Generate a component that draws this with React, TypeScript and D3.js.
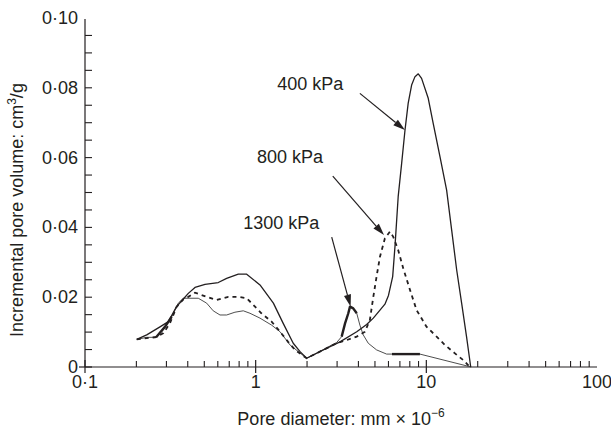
import React from "react";
import * as d3 from "d3";

const W = 611;
const H = 432;
const FONT = "'Liberation Sans', Arial, Helvetica, sans-serif";
const INK = "#231f20";

// Axis ticks
const xMajorTicks = [0.1, 1, 10];
const xTickLabels = ["0·1", "1", "10", "100"];
const xLabelValues = [0.1, 1, 10, 100];
const yMajorTicks = [0, 0.02, 0.04, 0.06, 0.08, 0.1];
const yTickLabels = ["0", "0·02", "0·04", "0·06", "0·08", "0·10"];

// Series: [pore diameter (µm), incremental pore volume (cm3/g)]
const kPa400: [number, number][] = [
  [0.201, 0.0079], [0.23, 0.0092], [0.275, 0.0115], [0.308, 0.013], [0.344, 0.0173],
  [0.377, 0.0195], [0.403, 0.0211], [0.441, 0.0228], [0.505, 0.0237], [0.604, 0.0242],
  [0.676, 0.0254], [0.791, 0.0266], [0.886, 0.0266], [1.06, 0.0235], [1.27, 0.0183],
  [1.45, 0.0125], [1.66, 0.0068], [1.82, 0.0044], [1.99, 0.0025], [2.49, 0.0049],
  [3.12, 0.0072], [3.91, 0.0101], [4.47, 0.0122], [4.89, 0.014], [5.35, 0.0163],
  [5.72, 0.018], [6.0, 0.0205], [6.35, 0.0259], [6.55, 0.0345], [6.84, 0.0488],
  [7.17, 0.0584], [7.5, 0.0679], [7.83, 0.0756], [8.2, 0.0808], [8.58, 0.0832],
  [8.97, 0.084], [9.38, 0.0827], [10.26, 0.077], [10.97, 0.0698], [12.02, 0.0603],
  [13.15, 0.0507], [14.07, 0.0393], [15.06, 0.0278], [16.1, 0.0183], [17.2, 0.0087],
  [18.2, 0],
];

const kPa800: [number, number][] = [
  [0.201, 0.0079], [0.263, 0.0086], [0.288, 0.0097], [0.315, 0.0126], [0.344, 0.0172],
  [0.377, 0.0194], [0.403, 0.0201], [0.441, 0.0213], [0.516, 0.0201], [0.591, 0.0192],
  [0.691, 0.0201], [0.791, 0.0201], [0.886, 0.0197], [0.968, 0.0178], [1.08, 0.0154],
  [1.24, 0.013], [1.39, 0.0101], [1.55, 0.0072], [1.7, 0.0049], [1.99, 0.0025],
  [2.49, 0.0049], [2.98, 0.0068], [3.41, 0.0077], [3.91, 0.0087], [4.37, 0.0101],
  [4.67, 0.0135], [4.89, 0.0201], [5.11, 0.0259], [5.35, 0.0316], [5.72, 0.0369],
  [6.12, 0.0388], [6.4, 0.0373], [6.84, 0.0335], [7.32, 0.0283], [8.02, 0.0221],
  [8.77, 0.0163], [10.04, 0.0115], [11.49, 0.0087], [12.85, 0.0063], [14.71, 0.0039],
  [16.45, 0.002], [18.0, 0],
];

const kPa1300: [number, number][] = [
  [0.201, 0.0079], [0.23, 0.0085], [0.261, 0.0085], [0.294, 0.0115], [0.322, 0.0144],
  [0.352, 0.0183], [0.377, 0.0197], [0.412, 0.0197], [0.461, 0.0197], [0.516, 0.0183],
  [0.564, 0.0161], [0.618, 0.0149], [0.676, 0.0149], [0.756, 0.0157], [0.846, 0.0161],
  [0.926, 0.0154], [1.06, 0.014], [1.24, 0.012], [1.39, 0.0101], [1.59, 0.0063],
  [1.78, 0.0044], [1.99, 0.0025], [2.49, 0.0049], [2.79, 0.0063], [2.98, 0.007],
  [3.19, 0.0087], [3.34, 0.0125], [3.49, 0.0154], [3.57, 0.0173], [3.73, 0.0168],
  [3.91, 0.0154], [4.08, 0.012], [4.27, 0.0092], [4.57, 0.0068], [5.11, 0.0049],
  [5.85, 0.0037], [6.29, 0.0037], [9.17, 0.0037], [18.3, 0],
];
// x-ranges where the 1300 kPa trace is drawn heavier in the original
const kPa1300Heavy: [number, number][] = [[0.255, 0.33], [3.1, 3.95], [6.29, 9.17]];

// Annotations: label, text anchor point (start, baseline), arrow start, arrow tip (data coords)
const annLabels = ["400 kPa", "800 kPa", "1300 kPa"];
const annText: [number, number][] = [[1.338, 0.0794], [1.018, 0.0584], [0.846, 0.0395]];
const annFrom: [number, number][] = [[4.08, 0.0784], [2.83, 0.0547], [2.79, 0.0372]];
const annTo: [number, number][] = [[7.49, 0.0679], [5.65, 0.0378], [3.6, 0.0173]];

export default function App() {
  const x = d3.scaleLog().domain([0.1, 100]).range([85, 597]);
  const y = d3.scaleLinear().domain([0, 0.1]).range([367, 18]);
  const line = d3
    .line<[number, number]>()
    .x((d) => x(d[0]))
    .y((d) => y(d[1]));

  const xMinor: number[] = [];
  [0.1, 1, 10].forEach((dec) => {
    for (let k = 2; k <= 9; k++) xMinor.push(dec * k);
  });
  const yMinor: number[] = d3.range(1, 20).map((i) => i * 0.005);

  const x0 = x(0.1);
  const y0 = y(0);
  const fs = 18;

  const heavySegs = kPa1300Heavy.map(([a, b]) => kPa1300.filter((d) => d[0] >= a && d[0] <= b));

  return (
    <svg
      width={W}
      height={H}
      style={{ position: "absolute", left: 0, top: 0, display: "block", background: "#fff" }}
      fontFamily={FONT}
    >
      {/* axes */}
      <line x1={x0} x2={x(100)} y1={y0} y2={y0} stroke={INK} strokeWidth={1.2} />
      <line x1={x0} x2={x0} y1={y0} y2={y(0.1) + 1} stroke={INK} strokeWidth={1.2} />
      {/* y ticks */}
      {yMinor.map((v, i) => (
        <line key={"ym" + i} x1={x0} x2={x0 + 7} y1={y(v)} y2={y(v)} stroke={INK} strokeWidth={1.1} />
      ))}
      <line x1={x0 - 6} x2={x0 + 7} y1={y0} y2={y0} stroke={INK} strokeWidth={1.2} />
      {/* x ticks */}
      {xMinor.map((v, i) => (
        <line key={"xm" + i} x1={x(v)} x2={x(v)} y1={y0} y2={y0 - 6} stroke={INK} strokeWidth={1.1} />
      ))}
      {xMajorTicks.map((v, i) => (
        <line key={"xM" + i} x1={x(v)} x2={x(v)} y1={y0 + 6} y2={y0 - 7} stroke={INK} strokeWidth={1.2} />
      ))}
      {/* tick labels */}
      {yMajorTicks.map((v, i) => (
        <text key={"yl" + i} x={x0 - 7} y={y(v) + 6} fontSize={fs} textAnchor="end" fill={INK}>
          {yTickLabels[i]}
        </text>
      ))}
      {xLabelValues.map((v, i) => (
        <text key={"xl" + i} x={x(v)} y={y0 + 21} fontSize={fs} textAnchor="middle" fill={INK}>
          {xTickLabels[i]}
        </text>
      ))}
      {/* axis titles */}
      <text x={341} y={425} fontSize={fs} textAnchor="middle" fill={INK}>
        Pore diameter: mm × 10<tspan dy={-8} fontSize={12}>−6</tspan>
      </text>
      <text
        transform={`translate(23,210) rotate(-90)`}
        fontSize={fs}
        textAnchor="middle"
        fill={INK}
      >
        Incremental pore volume: cm<tspan dy={-7} fontSize={12}>3</tspan>
        <tspan dy={7}>/g</tspan>
      </text>

      {/* series */}
      <path d={line(kPa1300) || ""} fill="none" stroke="#3a3a3a" strokeWidth={0.9} strokeLinejoin="round" />
      {heavySegs.map((seg, i) => (
        <path key={"h" + i} d={line(seg) || ""} fill="none" stroke={INK} strokeWidth={2.4} strokeLinejoin="round" />
      ))}
      <path
        d={line(kPa800) || ""}
        fill="none"
        stroke={INK}
        strokeWidth={1.8}
        strokeDasharray="4 4"
      />
      <path d={line(kPa400) || ""} fill="none" stroke={INK} strokeWidth={1.3} strokeLinejoin="round" />

      {/* annotations */}
      {annLabels.map((lab, i) => {
        const sx = x(annFrom[i][0]);
        const sy = y(annFrom[i][1]);
        const tx = x(annTo[i][0]);
        const ty = y(annTo[i][1]);
        const ang = Math.atan2(ty - sy, tx - sx);
        const L = 12;
        const hw = 3.6;
        const bx = tx - L * Math.cos(ang);
        const by = ty - L * Math.sin(ang);
        const px = -Math.sin(ang) * hw;
        const py = Math.cos(ang) * hw;
        return (
          <g key={"a" + i}>
            <text x={x(annText[i][0])} y={y(annText[i][1])} fontSize={fs} fill={INK}>
              {lab}
            </text>
            <line x1={sx} y1={sy} x2={bx} y2={by} stroke={INK} strokeWidth={1.2} />
            <polygon points={`${tx},${ty} ${bx + px},${by + py} ${bx - px},${by - py}`} fill={INK} />
          </g>
        );
      })}
    </svg>
  );
}
